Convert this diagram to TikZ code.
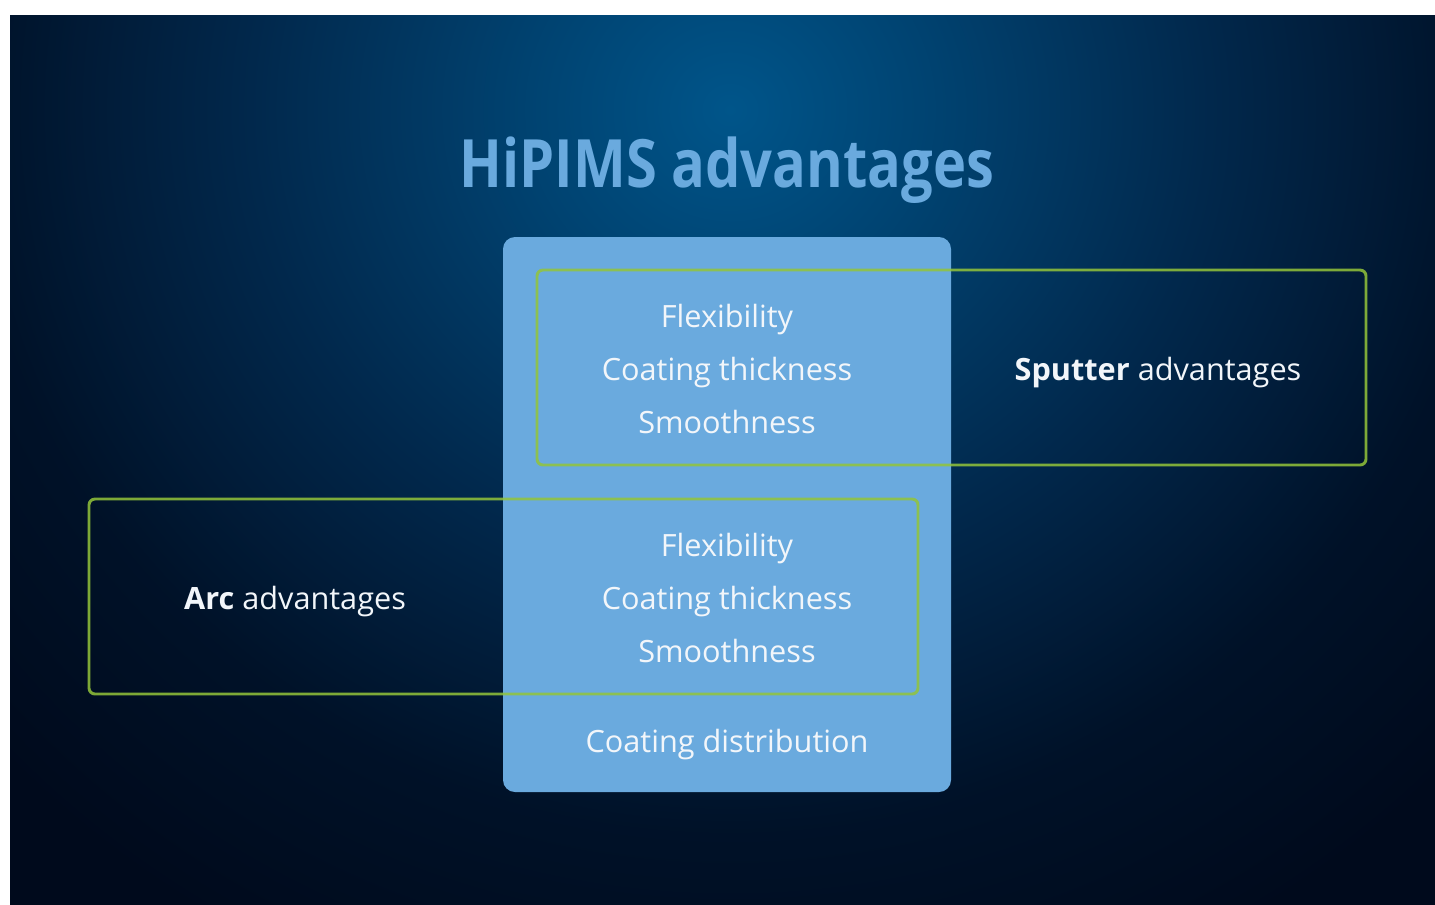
\documentclass[tikz,border=0pt]{standalone}
\usepackage{fontspec}
\setmainfont{Open Sans}
\newfontfamily\titlefont{Open Sans}[FakeStretch=0.84]
\usetikzlibrary{positioning}
\definecolor{hpblue}{HTML}{6AAADE}
\definecolor{hpgreen}{HTML}{93C43A}
\definecolor{hptext}{HTML}{F2F6FA}
\definecolor{bgglow}{HTML}{00558A}
\definecolor{bgmid}{HTML}{01284C}
\definecolor{bgdark}{HTML}{000A1C}
\pgfdeclareradialshading{hipimsglow}{\pgfpoint{0bp}{0bp}}{color(0bp)=(bgglow); color(5bp)=(bgglow!60!bgmid); color(12bp)=(bgmid); color(19bp)=(bgdark!75!bgmid); color(25bp)=(bgdark); color(50bp)=(bgdark)}
\tikzstyle{hipims} = [rectangle, rounded corners=9pt, fill=hpblue, inner sep=0pt, minimum width=448*0.75pt, minimum height=555*0.75pt]
\tikzstyle{advbox} = [rectangle, rounded corners=4.5pt, draw=hpgreen, draw opacity=0.85, line width=2.2pt, inner sep=0pt, minimum width=829*0.75pt, minimum height=195*0.75pt]
\tikzstyle{item} = [text=hptext, font=\fontsize{23pt}{27pt}\selectfont, text height=17pt, text depth=5pt, inner sep=0pt]

\begin{document}
\begin{tikzpicture}[x=0.75pt, y=-0.75pt, node distance=40.1pt]
\useasboundingbox (0,0) rectangle (1435,904);
% Background
\fill[white] (-5,-5) rectangle (1440,910);
\begin{scope}
\clip (10,15) rectangle (1440,910);
\fill[bgdark] (10,15) rectangle (1440,910);
\shade[shading=hipimsglow] (730,110) ellipse [x radius=1000, y radius=950];
\end{scope}

% Title
\node (title) [anchor=base, text=hpblue, font=\titlefont\fontsize{50pt}{60pt}\selectfont\bfseries, inner sep=0pt] at (727,187) {HiPIMS advantages};

% HiPIMS box and advantage frames
\node (hipims) [hipims] at (727,514.5) {};
\node (sputter) [advbox] at (951.5,367.5) {};
\node (arc) [advbox] at (503.5,596.5) {};

% Shared advantages - top
\node (flex1) [item] at (727,319) {Flexibility};
\node (thick1) [item, below of=flex1] {Coating thickness};
\node (smooth1) [item, below of=thick1] {Smoothness};

% Shared advantages - bottom
\node (flex2) [item] at (727,548) {Flexibility};
\node (thick2) [item, below of=flex2] {Coating thickness};
\node (smooth2) [item, below of=thick2] {Smoothness};
\node (distrib) [item] at (727,744) {Coating distribution};

% Labels
\node (sputterlbl) [item] at (1158,372) {\textbf{Sputter} advantages};
\node (arclbl) [item] at (295,601) {\textbf{Arc} advantages};
\end{tikzpicture}
\end{document}
